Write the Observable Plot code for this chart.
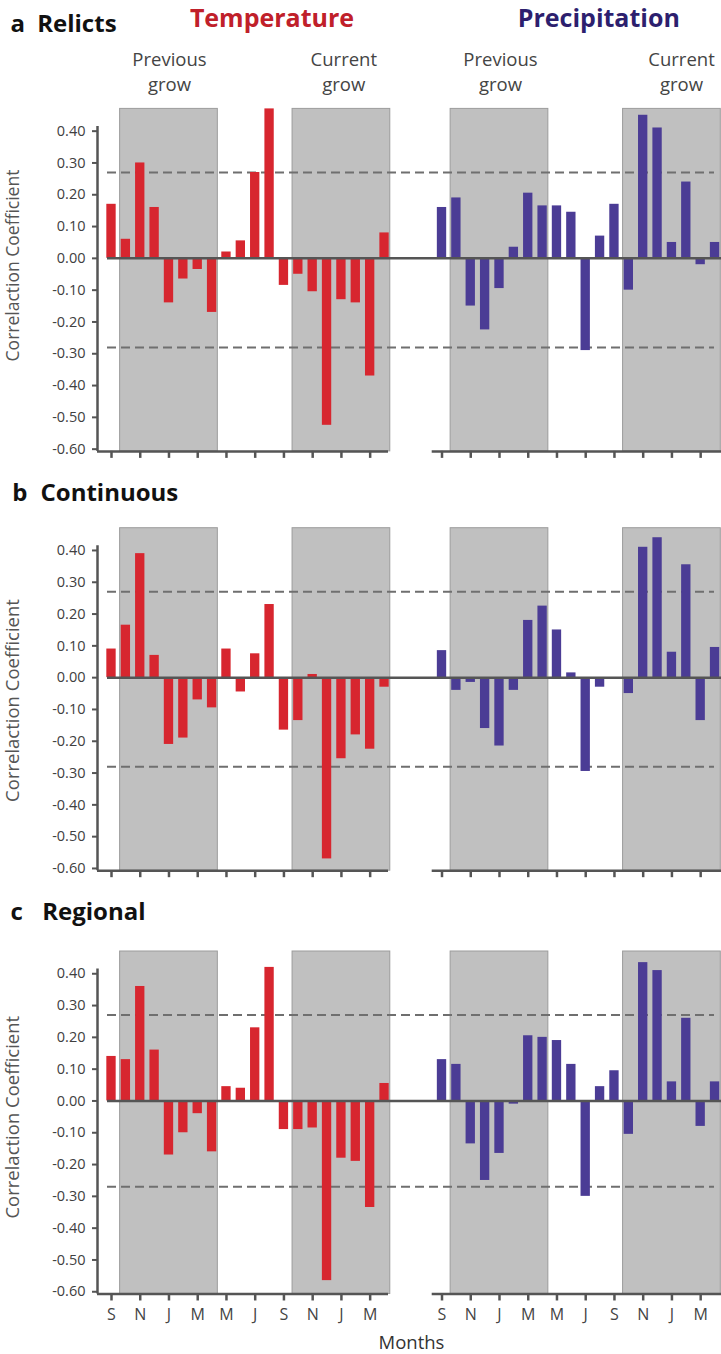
<!DOCTYPE html>
<html>
<head>
<meta charset="utf-8">
<script src="https://cdn.jsdelivr.net/npm/d3@7"></script>
<script src="https://cdn.jsdelivr.net/npm/@observablehq/plot@0.6"></script>
<style>
  body { margin: 0; background: #fff; }
  #wrap { position: relative; width: 721px; height: 1354px; overflow: hidden; background: #fff; }
  #wrap svg { position: absolute; left: 0; }
</style>
</head>
<body>
<div id="wrap"></div>
<script>
// ---------------- data ----------------
const months = ["S","O","N","D","J","F","M","A","M","J","J","A","S","O","N","D","J","F","M","A"];

const tempRelicts    = [0.17, 0.06, 0.30, 0.16, -0.14, -0.065, -0.035, -0.17, 0.02, 0.055, 0.27, 0.47, -0.085, -0.05, -0.105, -0.525, -0.13, -0.14, -0.37, 0.08];
const precRelicts    = [0.16, 0.19, -0.15, -0.225, -0.095, 0.035, 0.205, 0.165, 0.165, 0.145, -0.29, 0.07, 0.17, -0.10, 0.45, 0.41, 0.05, 0.24, -0.02, 0.05];

const tempContinuous = [0.09, 0.165, 0.39, 0.07, -0.21, -0.19, -0.07, -0.095, 0.09, -0.045, 0.075, 0.23, -0.165, -0.135, 0.01, -0.57, -0.255, -0.18, -0.225, -0.03];
const precContinuous = [0.085, -0.04, -0.015, -0.16, -0.215, -0.04, 0.18, 0.225, 0.15, 0.015, -0.295, -0.03, 0.0, -0.05, 0.41, 0.44, 0.08, 0.355, -0.135, 0.095];

const tempRegional   = [0.14, 0.13, 0.36, 0.16, -0.17, -0.10, -0.04, -0.16, 0.045, 0.04, 0.23, 0.42, -0.09, -0.09, -0.085, -0.565, -0.18, -0.19, -0.335, 0.055];
const precRegional   = [0.13, 0.115, -0.135, -0.25, -0.165, -0.01, 0.205, 0.20, 0.19, 0.115, -0.30, 0.045, 0.095, -0.105, 0.435, 0.41, 0.06, 0.26, -0.08, 0.06];

const thresholdRelicts    = [0.27, -0.28];
const thresholdContinuous = [0.27, -0.28];
const thresholdRegional   = [0.27, -0.27];

const yTickValues = [0.4, 0.3, 0.2, 0.1, 0, -0.1, -0.2, -0.3, -0.4, -0.5, -0.6];
const panelLetters = ["a", "b", "c"];
const panelNames = ["Relicts", "Continuous", "Regional"];
const seriesNames = ["Temperature", "Precipitation"];
const growSeasons = [{from: 1, to: 7, line1: "Previous", line2: "grow"}, {from: 13, to: 19, line1: "Current", line2: "grow"}];
const yLabel = "Correlaction Coefficient";
const xLabel = "Months";

const panelTemp = [tempRelicts, tempContinuous, tempRegional];
const panelPrec = [precRelicts, precContinuous, precRegional];
const panelThr = [thresholdRelicts, thresholdContinuous, thresholdRegional];

// ---------------- layout ----------------
const W = 721, UNIT = 14.37, X0 = 111, ML = 97, P_OFF = 23;
const YMIN = -0.607, YMAX = 0.47, PXPER = 318;
const PLOT_H = (YMAX - YMIN) * PXPER;
const xd = p => (p - X0) / UNIT;           // pixel -> x data units
const XL = xd(ML), XR = xd(W);
const FONT = "'Open Sans', 'Noto Sans', sans-serif";
const RED = "#d7262f", BLUE = "#4b3c95";
const AXIS = "#555555";

const layouts = [
  {top: 0,   height: 470, frameTop: 108.4, letterX: 10,   nameX: 36.7, titleBase: 31.7,  ylabY: 265,    ylabSize: 17.5},
  {top: 470, height: 420, frameTop: 527.7, letterX: 11.7, nameX: 40,   titleBase: 500.7, ylabY: 700,    ylabSize: 18.5},
  {top: 890, height: 464, frameTop: 951,   letterX: 10,   nameX: 41.7, titleBase: 919,   ylabY: 1116.7, ylabSize: 18.5}
];

const headerCenters = [271.5, 598.3];
const seasonLabelCenters = [169, 343.3, 500, 681];

function buildPanel(k) {
  const L = layouts[k];
  const mt = L.frameTop - L.top;
  const mb = L.height - mt - PLOT_H;
  const at = (x, y) => ({frameAnchor: "top-left", dx: x - ML, dy: y - L.frameTop});
  const txt = (s, x, y, o) => Plot.text([s], {text: d => d, ...at(x, y), ...o});

  const temp = panelTemp[k].map((v, i) => ({x: i, v}));
  const prec = panelPrec[k].map((v, i) => ({x: i + P_OFF, v}));
  const seasons = [0, P_OFF].flatMap(off => growSeasons.map(s => ({x1: s.from - 0.4 + off, x2: s.to + 0.4 + off})));
  const tickPos = d3.range(0, 20, 2).flatMap(i => [i, i + P_OFF]).sort((a, b) => a - b);
  const showLabels = k === 2;

  const marks = [
    Plot.rect(seasons, {x1: "x1", x2: "x2", y1: () => YMIN, y2: () => YMAX, fill: "#c0c0c0", stroke: "#9c9c9c", strokeWidth: 1}),
    Plot.ruleY(panelThr[k], {y: d => d, x1: () => xd(107), x2: () => xd(714), stroke: "#6f6f6f", strokeWidth: 2, strokeDasharray: "9,5"}),
    Plot.rectY(temp, {x1: d => d.x - 0.325, x2: d => d.x + 0.325, y: "v", fill: RED}),
    Plot.rectY(prec, {x1: d => d.x - 0.325, x2: d => d.x + 0.325, y: "v", fill: BLUE}),
    Plot.ruleY([0], {x1: () => xd(107), x2: () => XR, stroke: AXIS, strokeWidth: 2.5}),
    // axis lines
    Plot.ruleX([XL], {x: d => d, y1: () => YMIN, y2: () => 0.415, stroke: AXIS, strokeWidth: 2.5}),
    Plot.ruleY([YMIN], {y: d => d, x1: () => XL, x2: () => xd(388), stroke: AXIS, strokeWidth: 2.5}),
    Plot.ruleY([YMIN], {y: d => d, x1: () => xd(431.7), x2: () => XR, stroke: AXIS, strokeWidth: 2.5}),
    Plot.axisY(yTickValues, {anchor: "left", tickSize: 5, tickPadding: 7, strokeWidth: 2, stroke: AXIS, fill: "#404040",
      tickFormat: d => d.toFixed(2), fontSize: 14.5, label: null}),
    Plot.axisX(tickPos, {anchor: "bottom", tickSize: 7, tickPadding: 8, strokeWidth: 2.5, stroke: AXIS, fill: "#444",
      tickFormat: i => showLabels ? months[i >= P_OFF ? i - P_OFF : i] : "", fontSize: 16, label: null}),
    // titles
    txt(panelLetters[k], L.letterX, L.titleBase, {textAnchor: "start", lineAnchor: "bottom", fontWeight: "bold", fontSize: 24, fill: "#111"}),
    txt(panelNames[k], L.nameX, L.titleBase, {textAnchor: "start", lineAnchor: "bottom", fontWeight: "bold", fontSize: 24, fill: "#111"}),
    txt(yLabel, 12.7, L.ylabY, {textAnchor: "middle", lineAnchor: "middle", rotate: -90, fontSize: L.ylabSize, fill: "#555"})
  ];

  if (k === 0) {
    marks.push(txt(seriesNames[0], headerCenters[0], 26.7, {textAnchor: "middle", lineAnchor: "bottom", fontWeight: "bold", fontSize: 25, fill: "#c0202a"}));
    marks.push(txt(seriesNames[1], headerCenters[1], 26.7, {textAnchor: "middle", lineAnchor: "bottom", fontWeight: "bold", fontSize: 25, fill: "#2d1f6e"}));
    [0, 1].forEach(g => growSeasons.forEach((s, j) => {
      const cx = seasonLabelCenters[g * 2 + j];
      marks.push(txt(s.line1, cx, 65, {textAnchor: "middle", lineAnchor: "bottom", fontSize: 18.5, fill: "#444"}));
      marks.push(txt(s.line2, cx, 90, {textAnchor: "middle", lineAnchor: "bottom", fontSize: 18.5, fill: "#444"}));
    }));
  }
  if (k === 2) {
    marks.push(txt(xLabel, 411, 1348.3, {textAnchor: "middle", lineAnchor: "bottom", fontSize: 18.5, fill: "#333"}));
  }

  const svg = Plot.plot({
    width: W,
    height: L.height,
    marginLeft: ML,
    marginRight: 0,
    marginTop: mt,
    marginBottom: mb,
    x: {type: "linear", domain: [XL, XR]},
    y: {type: "linear", domain: [YMIN, YMAX]},
    style: {background: "transparent", overflow: "visible", fontFamily: FONT},
    marks
  });
  svg.style.top = L.top + "px";
  return svg;
}

const wrap = document.getElementById("wrap");
[0, 1, 2].forEach(k => wrap.appendChild(buildPanel(k)));
</script>
</body>
</html>
